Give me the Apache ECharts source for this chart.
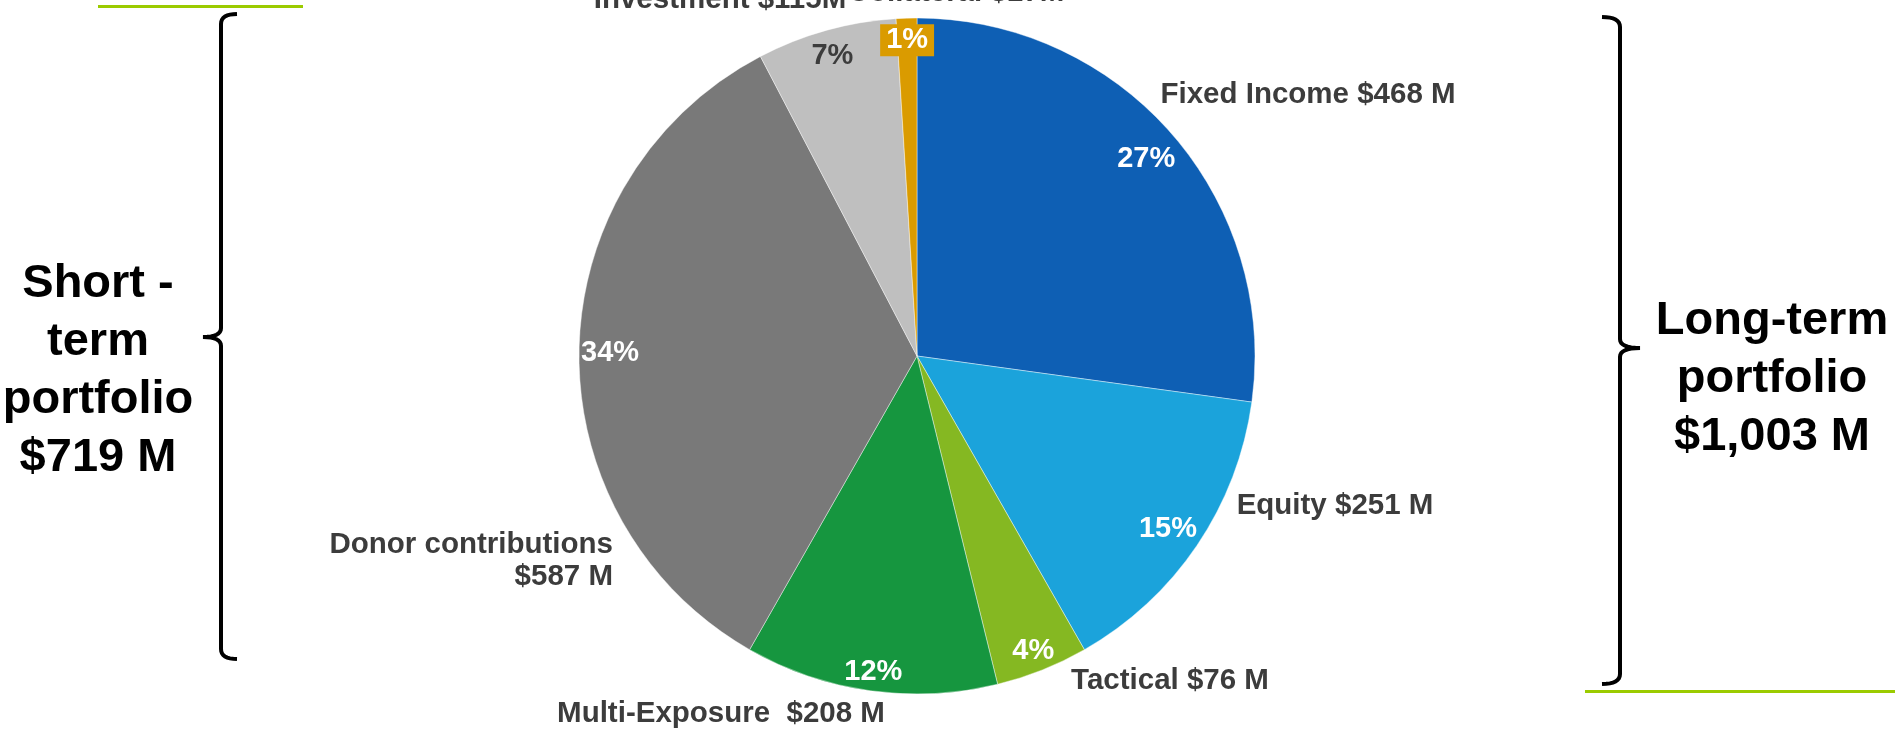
<!DOCTYPE html>
<html>
<head>
<meta charset="utf-8">
<title>Portfolio allocation</title>
<script src="https://cdn.jsdelivr.net/npm/echarts@6/dist/echarts.min.js"></script>
<style>
  html, body { margin: 0; padding: 0; background: #fff; }
  #chart { width: 1895px; height: 729px; }
</style>
</head>
<body>
<div id="chart"></div>
<script>
// slices, clockwise from 12 o'clock
const categories = ['Fixed Income', 'Equity', 'Tactical', 'Multi-Exposure', 'Donor contributions', 'Investment', 'Collateral'];
const values = [468, 251, 76, 208, 587, 115, 17];
// how name and amount are joined in each label, and the unit written after the amount
const labelJoin = [' ', ' ', ' ', '  ', '\n', ' ', ' '];
const unitText = [' M', ' M', ' M', ' M', ' M', 'M', 'M'];
// which slices belong to which portfolio
const longTermIdx = [0, 1, 2, 3];
const shortTermIdx = [4, 5, 6];

const colors = ['#0E5FB4', '#1BA3DB', '#85B822', '#16963F', '#797979', '#BFBFBF', '#DA9B00'];
const pctColors = ['#fff', '#fff', '#fff', '#fff', '#fff', '#3C3C3C', '#fff'];
const FONT = 'Liberation Sans, Arial, sans-serif';
const CENTER = [917, 356];
const R = 338;

// where the outside labels sit (x, y, align) - placed by hand in the original
const outsideLabelPos = [
    [1308, 95, 'center'],
    [1335, 506, 'center'],
    [1170, 681, 'center'],
    [721, 714, 'center'],
    [613, 561, 'right'],
    [720, 0, 'center'],
    [956, -7, 'center']
];
// distance of each percentage label from the centre, along the slice's middle
const pctRadius = [304, 303, 314, 316, 307, 315, 319];

let sumOf = function (idx) {
    return idx.reduce(function (s, i) { return s + values[i]; }, 0);
};
let money = function (v) {
    return '$' + v.toLocaleString('en-US') + ' M';
};

let total = values.reduce(function (s, v) { return s + v; }, 0);
let midAngles = [];
let acc = 0;
values.forEach(function (v) {
    midAngles.push((acc + v / 2) / total * Math.PI * 2);
    acc += v;
});

// brace outline: x of the spine, top/bottom y, y of the nub, hook and nub directions
let bracePoints = function (x, top, bottom, mid, hook, nub) {
    let pts = [];
    let quad = function (p0, p1, p2) {
        for (let t = 0; t <= 1.0001; t += 0.125) {
            let a = (1 - t) * (1 - t), b = 2 * (1 - t) * t, c = t * t;
            pts.push([a * p0[0] + b * p1[0] + c * p2[0], a * p0[1] + b * p1[1] + c * p2[1]]);
        }
    };
    quad([x + hook, top], [x, top], [x, top + 10]);
    quad([x, mid - 9], [x, mid], [x + nub, mid]);
    quad([x + nub, mid], [x, mid], [x, mid + 9]);
    quad([x, bottom - 10], [x, bottom], [x + hook, bottom]);
    return pts;
};

let mainData = categories.map(function (c, i) {
    return {
        name: c,
        value: values[i],
        itemStyle: { color: colors[i] }
    };
});
let pctData = categories.map(function (c, i) {
    let lbl = { color: pctColors[i] };
    if (i === 6) {
        lbl.backgroundColor = colors[6];
        lbl.padding = [2, 6];
    }
    return { name: c, value: values[i], label: lbl };
});

let chart = echarts.init(document.getElementById('chart'));
let option = {
    animation: false,
    backgroundColor: '#fff',
    series: [
        {
            name: 'allocation',
            type: 'pie',
            center: CENTER,
            radius: [0, R],
            startAngle: 90,
            clockwise: true,
            data: mainData,
            itemStyle: { borderColor: 'rgba(255,255,255,0.7)', borderWidth: 0.6 },
            label: {
                show: true,
                position: 'outside',
                color: '#3C3C3C',
                fontFamily: FONT,
                fontWeight: 'bold',
                fontSize: 29.5,
                lineHeight: 32,
                formatter: function (p) {
                    return p.name + labelJoin[p.dataIndex] + '$' + p.value + unitText[p.dataIndex];
                }
            },
            labelLine: { show: false },
            labelLayout: function (p) {
                let pos = outsideLabelPos[p.dataIndex];
                return { x: pos[0], y: pos[1], align: pos[2], verticalAlign: 'middle' };
            },
            emphasis: { disabled: true }
        },
        {
            name: 'share',
            type: 'pie',
            center: CENTER,
            radius: [282, R],
            startAngle: 90,
            clockwise: true,
            silent: true,
            percentPrecision: 0,
            data: pctData,
            itemStyle: { color: 'rgba(0,0,0,0)' },
            label: {
                show: true,
                position: 'inside',
                fontFamily: FONT,
                fontWeight: 'bold',
                fontSize: 29,
                lineHeight: 28,
                formatter: '{d}%'
            },
            labelLine: { show: false },
            labelLayout: function (p) {
                let a = midAngles[p.dataIndex];
                let r = pctRadius[p.dataIndex];
                return {
                    x: CENTER[0] + r * Math.sin(a),
                    y: CENTER[1] - r * Math.cos(a) + 3,
                    align: 'center',
                    verticalAlign: 'middle'
                };
            },
            emphasis: { disabled: true }
        }
    ],
    graphic: [
        // green accent rules
        { type: 'rect', shape: { x: 98, y: 5, width: 205, height: 3 }, style: { fill: '#9BCB00' } },
        { type: 'rect', shape: { x: 1585, y: 690, width: 310, height: 3 }, style: { fill: '#9BCB00' } },
        // braces
        {
            type: 'polyline',
            shape: { points: bracePoints(221, 14, 659, 337, 16, -18) },
            style: { fill: null, stroke: '#000', lineWidth: 4 }
        },
        {
            type: 'polyline',
            shape: { points: bracePoints(1620, 17, 684, 348, -18, 20) },
            style: { fill: null, stroke: '#000', lineWidth: 4 }
        },
        {
            type: 'text',
            x: 98, y: 371,
            style: {
                text: 'Short -\nterm\nportfolio\n' + money(sumOf(shortTermIdx)),
                align: 'center', verticalAlign: 'middle',
                fontFamily: FONT, fontWeight: 'bold', fontSize: 47, lineHeight: 58,
                fill: '#000'
            }
        },
        {
            type: 'text',
            x: 1772, y: 379,
            style: {
                text: 'Long-term\nportfolio\n' + money(sumOf(longTermIdx)),
                align: 'center', verticalAlign: 'middle',
                fontFamily: FONT, fontWeight: 'bold', fontSize: 47, lineHeight: 58,
                fill: '#000'
            }
        }
    ]
};
chart.setOption(option);
</script>
</body>
</html>
